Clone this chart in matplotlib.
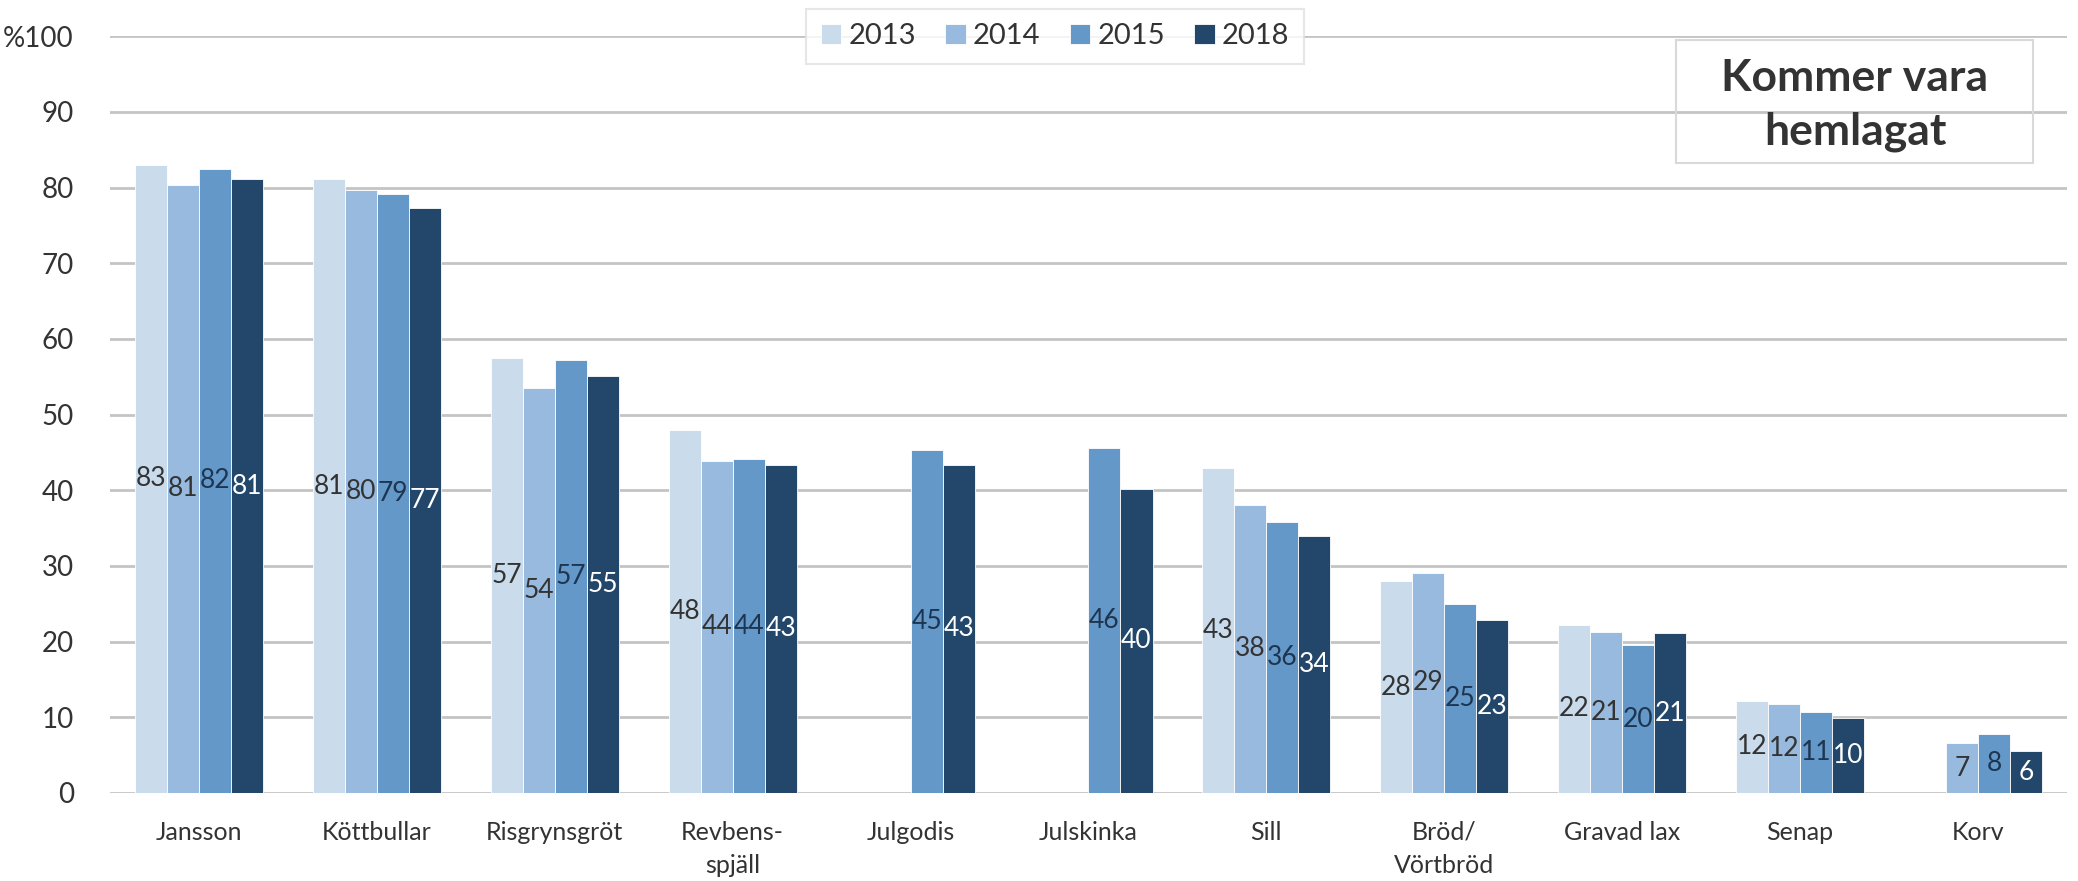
import numpy as np
import matplotlib
matplotlib.use("Agg")
import matplotlib.pyplot as plt
from matplotlib.patches import Rectangle

plt.rcParams['font.family'] = ['Lato', 'DejaVu Sans']

# data
kategorier = ["Jansson", "Köttbullar", "Risgrynsgröt", "Revbens-\nspjäll", "Julgodis",
              "Julskinka", "Sill", "Bröd/\nVörtbröd", "Gravad lax", "Senap", "Korv"]
ar = ["2013", "2014", "2015", "2018"]
v2013 = [83.0, 81.1, 57.5, 47.9, None, None, 43.0, 28.0, 22.2, 12.2, None]
v2014 = [80.4, 79.7, 53.5, 43.9, None, None, 38.1, 29.1, 21.3, 11.8, 6.6]
v2015 = [82.5, 79.2, 57.2, 44.1, 45.3, 45.6, 35.8, 25.0, 19.5, 10.7, 7.8]
v2018 = [81.1, 77.3, 55.1, 43.4, 43.4, 40.2, 33.9, 22.8, 21.1, 9.9, 5.5]
etiketter2013 = ["83", "81", "57", "48", "", "", "43", "28", "22", "12", ""]
etiketter2014 = ["81", "80", "54", "44", "", "", "38", "29", "21", "12", "7"]
etiketter2015 = ["82", "79", "57", "44", "45", "46", "36", "25", "20", "11", "8"]
etiketter2018 = ["81", "77", "55", "43", "43", "40", "34", "23", "21", "10", "6"]

serier = [v2013, v2014, v2015, v2018]
etiketter = [etiketter2013, etiketter2014, etiketter2015, etiketter2018]
farger = ["#cadcec", "#97bade", "#6398c8", "#23476a"]
textfarg = ["#333333", "#333333", "#1d3550", "#ffffff"]

fig = plt.figure(figsize=(20.78, 8.81), dpi=100)
ax = fig.add_axes([0.0529, 0.0999, 0.9418, 0.859])

x = np.arange(len(kategorier))
b = 0.18
for i, (vals, labs) in enumerate(zip(serier, etiketter)):
    for j, v in enumerate(vals):
        if v is None:
            continue
        xp = x[j] + (i - 1.5) * b
        ax.bar(xp, v, width=b, color=farger[i], edgecolor="white", linewidth=0.6, zorder=3,
               label=ar[i] if j == 6 else None)
        ax.text(xp, v / 2, labs[j], ha="center", va="center", fontsize=19,
                color=textfarg[i], zorder=4)

ax.set_xlim(-0.5, 10.5)
ax.set_ylim(0, 100)
ax.set_yticks(range(0, 101, 10))
ax.set_yticklabels([str(t) for t in range(0, 100, 10)] + ["%100"])
ax.set_xticks(x)
ax.set_xticklabels(kategorier, fontsize=18, color="#333333", linespacing=1.55, va="top")
ax.tick_params(axis="y", length=0, pad=26, labelsize=20, labelcolor="#333333")
ax.tick_params(axis="x", length=0, pad=20)
ax.yaxis.grid(True, color="#c4c4c4", linewidth=2, zorder=0)
for s in ax.spines.values():
    s.set_visible(False)

handles, labels = ax.get_legend_handles_labels()
leg = ax.legend(handles, labels, loc="center", bbox_to_anchor=(0.483, 1.0), ncol=4,
                fontsize=21, frameon=True, fancybox=False, edgecolor="#e0e0e0",
                handlelength=0.7, handleheight=0.7, handletextpad=0.25, columnspacing=1.0,
                borderpad=0.5, borderaxespad=0, labelcolor="#333333")
leg.get_frame().set_linewidth(1.5)

# titelruta
ax.add_patch(Rectangle((1676 / 2078, 718 / 881), 357 / 2078, 123 / 881, transform=fig.transFigure,
                       fill=False, edgecolor="#d9d9d9", linewidth=1.5, zorder=5, clip_on=False))
fig.text(1855 / 2078, 776 / 881, "Kommer vara\nhemlagat", ha="center", va="center",
         fontsize=32, fontweight="bold", color="#333333", linespacing=1.4)

fig.savefig("out.png", dpi=100)
